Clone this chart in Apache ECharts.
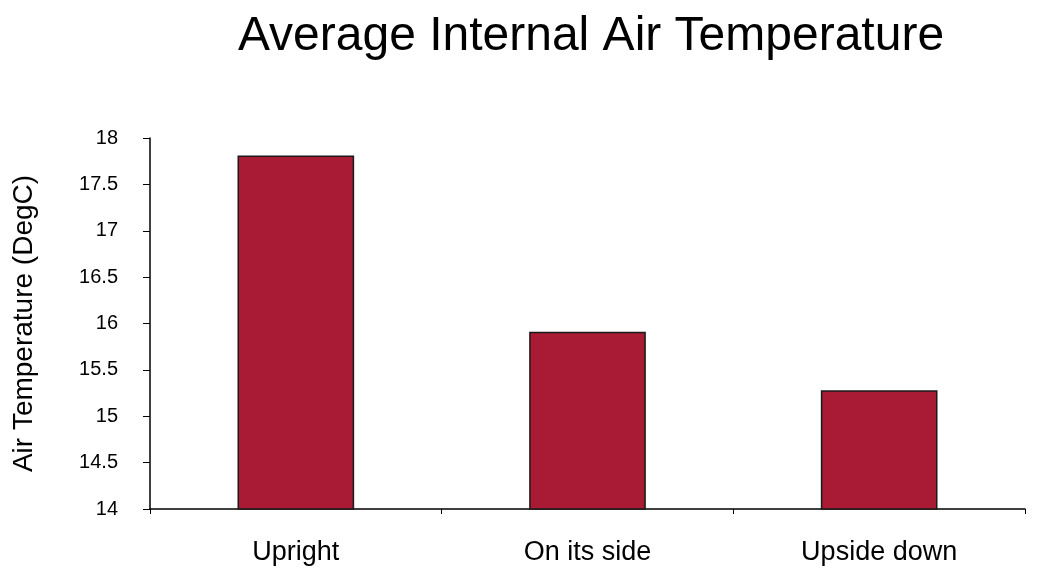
<!DOCTYPE html>
<html>
<head>
<meta charset="utf-8">
<script src="https://cdn.jsdelivr.net/npm/echarts@6/dist/echarts.min.js"></script>
<style>
  html, body { margin: 0; padding: 0; background: #fff; }
  #chart { width: 1043px; height: 576px; }
</style>
</head>
<body>
<div id="chart"></div>
<script>
// data
const categories = ['Upright', 'On its side', 'Upside down'];
const temps = [17.81, 15.91, 15.28];
const yTicks = [14, 14.5, 15, 15.5, 16, 16.5, 17, 17.5, 18];

const myChart = echarts.init(document.getElementById('chart'));
const font = '"Liberation Sans", Arial, sans-serif';

const option = {
  animation: false,
  backgroundColor: '#fff',
  title: {
    text: 'Average Internal Air Temperature',
    left: 586,
    top: 8,
    textAlign: 'center',
    textStyle: { fontFamily: font, fontSize: 48, fontWeight: 'normal', color: '#000' }
  },
  grid: { left: 150, right: 18, top: 138, bottom: 67 },
  xAxis: {
    type: 'category',
    data: categories,
    axisLine: { lineStyle: { color: '#000', width: 1.5 } },
    axisTick: { show: true, length: 5, lineStyle: { color: '#000' } },
    axisLabel: { fontFamily: font, fontSize: 27, color: '#000', margin: 30 }
  },
  yAxis: {
    type: 'value',
    min: yTicks[0],
    max: yTicks[yTicks.length - 1],
    interval: 0.5,
    name: 'Air Temperature (DegC)',
    nameLocation: 'middle',
    nameGap: 112,
    nameTextStyle: { fontFamily: font, fontSize: 28, color: '#000' },
    axisLine: { show: true, lineStyle: { color: '#000', width: 1.5 } },
    axisTick: { show: true, length: 7, lineStyle: { color: '#000' } },
    axisLabel: { fontFamily: font, fontSize: 20, color: '#000', margin: 32 },
    splitLine: { show: false }
  },
  series: [{
    name: 'Air Temperature',
    type: 'bar',
    data: temps,
    barWidth: '40%',
    itemStyle: { color: '#a91b35', borderColor: '#1a1a1a', borderWidth: 1.5 }
  }]
};
myChart.setOption(option);
window.addEventListener('resize', function () { myChart.resize() });
</script>
</body>
</html>
